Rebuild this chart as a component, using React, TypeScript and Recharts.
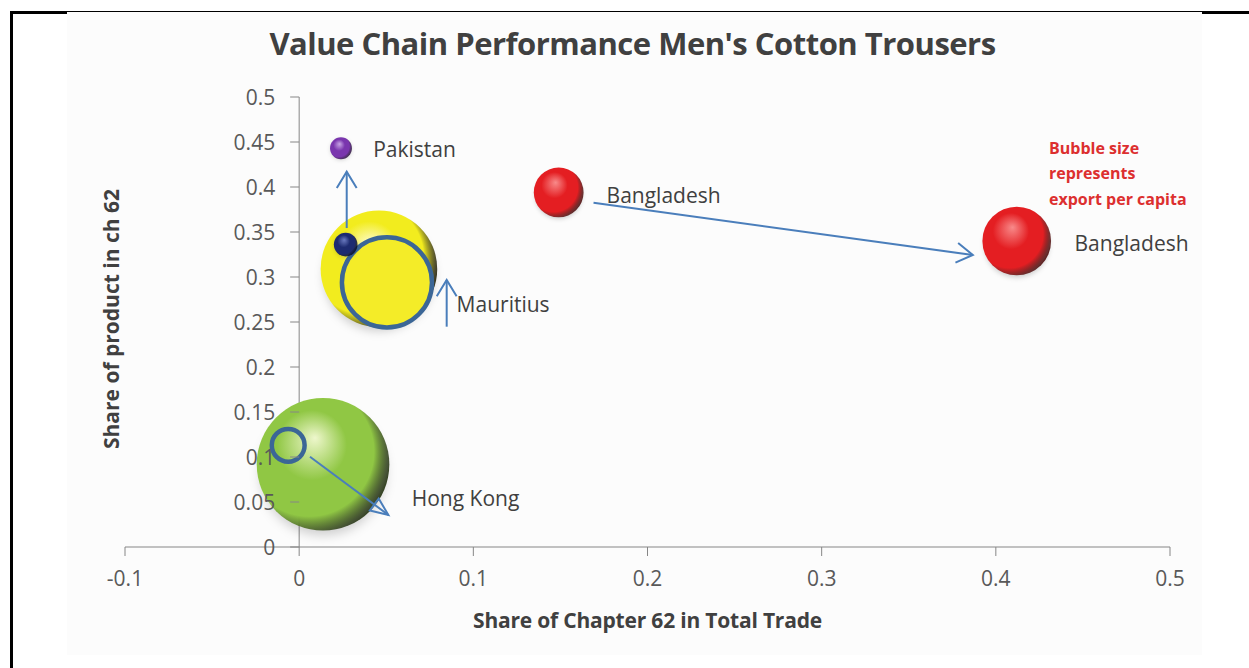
import { ScatterChart, Scatter, XAxis, YAxis, ZAxis, ReferenceLine } from 'recharts'

// --- Data ---

const xTicks = [-0.1, 0, 0.1, 0.2, 0.3, 0.4, 0.5]
const yTicks = [0, 0.05, 0.1, 0.15, 0.2, 0.25, 0.3, 0.35, 0.4, 0.45, 0.5]

// latest position of each country (3D bubbles)
const currentBubbles = [
  { key: 'mauritius', share62: 0.0458, shareProduct: 0.309, exportPerCapita: 340 },
  { key: 'hongkong', share62: 0.0137, shareProduct: 0.0919, exportPerCapita: 440 },
  { key: 'pakistan', share62: 0.024, shareProduct: 0.443, exportPerCapita: 12 },
  { key: 'bangladesh', share62: 0.412, shareProduct: 0.34, exportPerCapita: 118 },
]

// earlier position drawn as flat outlined circles
const earlierRings = [
  { key: 'mauritius0', share62: 0.0504, shareProduct: 0.294, exportPerCapita: 203 },
  { key: 'hongkong0', share62: -0.0063, shareProduct: 0.113, exportPerCapita: 27 },
]

// earlier position drawn as 3D bubbles
const earlierBubbles = [
  { key: 'pakistan0', share62: 0.0267, shareProduct: 0.336, exportPerCapita: 14 },
  { key: 'bangladesh0', share62: 0.149, shareProduct: 0.394, exportPerCapita: 62 },
]

const countryLabels = [
  { text: 'Pakistan', share62: 0.0425, shareProduct: 0.4422 },
  { text: 'Bangladesh', share62: 0.1765, shareProduct: 0.3911 },
  { text: 'Bangladesh', share62: 0.4452, shareProduct: 0.3381 },
  { text: 'Mauritius', share62: 0.0904, shareProduct: 0.27 },
  { text: 'Hong Kong', share62: 0.0646, shareProduct: 0.0541 },
]

// arrows: start point, end point
const pakistanMove = [
  { share62: 0.0273, shareProduct: 0.3544 },
  { share62: 0.0273, shareProduct: 0.417 },
]
const mauritiusMove = [
  { share62: 0.0847, shareProduct: 0.2448 },
  { share62: 0.0847, shareProduct: 0.2967 },
]
const bangladeshMove = [
  { share62: 0.169, shareProduct: 0.3826 },
  { share62: 0.3868, shareProduct: 0.3244 },
]
const hongKongMove = [
  { share62: 0.0062, shareProduct: 0.1003 },
  { share62: 0.0512, shareProduct: 0.0356 },
]

const noteLines = ['Bubble size', 'represents', 'export per capita']

// --- Layout / styles ---

const CHART_W = 1249
const CHART_H = 668
const MARGIN = { top: 97, right: 79, bottom: 31, left: 124 }
const X_AXIS_H = 90
const Y_AXIS_W = 1
const X_DOMAIN: [number, number] = [-0.1, 0.5]
const Y_DOMAIN: [number, number] = [0, 0.5]
const Z_DOMAIN: [number, number] = [0, 440]
const MAX_R = 66.3

const PLOT_W = CHART_W - MARGIN.left - MARGIN.right - Y_AXIS_W
const ZERO_X = MARGIN.left + Y_AXIS_W + ((0 - X_DOMAIN[0]) / (X_DOMAIN[1] - X_DOMAIN[0])) * PLOT_W

const FONT = '"Open Sans", sans-serif'
const AXIS_COLOR = '#868686'
const TICK_COLOR = '#595959'
const LABEL_COLOR = '#404040'
const ARROW_COLOR = '#4a7ebb'
const RING_COLOR = '#3b6696'

// light, base, dark
const sphereColors: Record<string, [string, string, string]> = {
  mauritius: ['#fffde0', '#f2ec1e', '#1e1c00'],
  hongkong: ['#eef7cc', '#90c744', '#1e2e0a'],
  pakistan: ['#c9a6e6', '#7a36ae', '#24083a'],
  bangladesh: ['#f88a8a', '#e41e22', '#4a0404'],
  pakistan0: ['#6a7ac0', '#1d2b70', '#060a24'],
  bangladesh0: ['#f88a8a', '#e41e22', '#4a0404'],
}
const ringFill: Record<string, string> = {
  mauritius0: '#f4ec28',
  hongkong0: 'none',
}

// --- Shapes ---

const Sphere = (props: any) => {
  const { cx, cy, width, payload } = props
  const r = width / 2
  const [light, base, dark] = sphereColors[payload.key]
  const id = `sphere-${payload.key}`
  return (
    <g>
      <defs>
        <radialGradient id={id} cx="0.38" cy="0.44" r="0.66" fx="0.44" fy="0.3">
          <stop offset="0" stopColor={light} />
          <stop offset="0.4" stopColor={base} />
          <stop offset="0.74" stopColor={base} />
          <stop offset="0.92" stopColor={dark} stopOpacity={0.8} />
          <stop offset="1" stopColor={dark} />
        </radialGradient>
        <filter id={`${id}-shadow`} x="-50%" y="-50%" width="200%" height="200%">
          <feGaussianBlur stdDeviation={Math.max(2, r * 0.08)} />
        </filter>
      </defs>
      <ellipse
        cx={cx}
        cy={cy + r * 0.12}
        rx={r * 0.95}
        ry={r * 0.95}
        fill="rgba(0,0,0,0.18)"
        filter={`url(#${id}-shadow)`}
      />
      <circle cx={cx} cy={cy} r={r} fill={`url(#${id})`} />
    </g>
  )
}

const Ring = (props: any) => {
  const { cx, cy, width, payload } = props
  return (
    <circle
      cx={cx}
      cy={cy}
      r={width / 2}
      fill={ringFill[payload.key]}
      stroke={RING_COLOR}
      strokeWidth={4.5}
    />
  )
}

const CountryLabel = (props: any) => {
  const { cx, cy, payload } = props
  return (
    <text
      x={cx}
      y={cy}
      dominantBaseline="central"
      fill={LABEL_COLOR}
      fontSize={21}
      fontFamily={FONT}
    >
      {payload.text}
    </text>
  )
}

const NoPoint = () => <g />

// line of a two-point series, drawn as an arrow from the first to the second point
const arrowLine = (head: 'open' | 'triangle') => (p: any) => {
  const pts = p.points || []
  if (pts.length < 2) return <g />
  const { x: x1, y: y1 } = pts[0]
  const { x: x2, y: y2 } = pts[1]
  const ang = Math.atan2(y2 - y1, x2 - x1)
  const len = 19
  const spread = head === 'open' ? 0.55 : 0.4
  const ax = x2 - len * Math.cos(ang - spread)
  const ay = y2 - len * Math.sin(ang - spread)
  const bx = x2 - len * Math.cos(ang + spread)
  const by = y2 - len * Math.sin(ang + spread)
  const headPts = `${ax},${ay} ${x2},${y2} ${bx},${by}`
  return (
    <g>
      <line x1={x1} y1={y1} x2={x2} y2={y2} stroke={ARROW_COLOR} strokeWidth={2} />
      {head === 'open' ? (
        <polyline points={headPts} fill="none" stroke={ARROW_COLOR} strokeWidth={2} />
      ) : (
        <polygon points={headPts} fill="none" stroke={ARROW_COLOR} strokeWidth={2} />
      )}
    </g>
  )
}

const YTick = (props: any) => {
  const { y, payload } = props
  return (
    <g>
      <line x1={ZERO_X - 9} x2={ZERO_X} y1={y} y2={y} stroke={AXIS_COLOR} />
      <text
        x={ZERO_X - 24}
        y={y}
        textAnchor="end"
        dominantBaseline="central"
        fill={TICK_COLOR}
        fontSize={21}
        fontFamily={FONT}
      >
        {String(payload.value)}
      </text>
    </g>
  )
}

const XTitle = (props: any) => {
  const { viewBox } = props
  return (
    <text
      x={viewBox.x + viewBox.width / 2}
      y={viewBox.y + 73}
      textAnchor="middle"
      dominantBaseline="central"
      fill={LABEL_COLOR}
      fontSize={21}
      fontWeight={700}
      fontFamily={FONT}
      letterSpacing={-0.2}
    >
      Share of Chapter 62 in Total Trade
    </text>
  )
}

const YTitle = (props: any) => {
  const { viewBox } = props
  const x = viewBox.x - 13
  const y = viewBox.y + viewBox.height / 2 - 3
  return (
    <text
      x={x}
      y={y}
      transform={`rotate(-90 ${x} ${y})`}
      textAnchor="middle"
      dominantBaseline="central"
      fill={LABEL_COLOR}
      fontSize={21}
      fontWeight={700}
      fontFamily={FONT}
    >
      Share of product in ch 62
    </text>
  )
}

// --- Component ---

export default function App() {
  return (
    <div style={{ position: 'absolute', left: 0, top: 0, width: CHART_W, height: CHART_H, background: '#fff' }}>
      {/* page frame */}
      <div style={{ position: 'absolute', left: 10, top: 11, width: 3, height: CHART_H - 11, background: '#000' }} />
      <div style={{ position: 'absolute', left: 10, top: 11, width: CHART_W - 10, height: 3, background: '#000' }} />
      <div style={{ position: 'absolute', left: 67, top: 12, width: 1135, height: 643, background: '#fcfcfc' }} />

      <div
        style={{
          position: 'absolute',
          left: 8,
          top: 28,
          width: CHART_W,
          textAlign: 'center',
          fontFamily: FONT,
          fontWeight: 700,
          fontSize: 31,
          lineHeight: '31px',
          color: LABEL_COLOR,
          letterSpacing: -0.5,
        }}
      >
        Value Chain Performance Men's Cotton Trousers
      </div>

      <div style={{ position: 'absolute', left: 0, top: 0 }}>
        <ScatterChart width={CHART_W} height={CHART_H} margin={MARGIN}>
          <XAxis
            type="number"
            dataKey="share62"
            domain={X_DOMAIN}
            ticks={xTicks}
            interval={0}
            height={X_AXIS_H}
            stroke={AXIS_COLOR}
            tickSize={9}
            tickMargin={15}
            tick={{ fill: TICK_COLOR, fontSize: 21, fontFamily: FONT }}
            tickFormatter={(v: number) => String(v)}
            label={{ content: XTitle }}
          />
          <YAxis
            type="number"
            dataKey="shareProduct"
            domain={Y_DOMAIN}
            ticks={yTicks}
            interval={0}
            width={Y_AXIS_W}
            axisLine={false}
            tickLine={false}
            tick={YTick}
            label={{ content: YTitle }}
          />
          <ZAxis type="number" dataKey="exportPerCapita" domain={Z_DOMAIN} range={[0, Math.PI * MAX_R * MAX_R]} />
          <ReferenceLine x={0} stroke={AXIS_COLOR} />
          <Scatter data={currentBubbles} shape={Sphere} isAnimationActive={false} />
          <Scatter data={earlierRings} shape={Ring} isAnimationActive={false} />
          <Scatter data={earlierBubbles} shape={Sphere} isAnimationActive={false} />
          <Scatter data={pakistanMove} shape={NoPoint} line={arrowLine('open')} isAnimationActive={false} />
          <Scatter data={mauritiusMove} shape={NoPoint} line={arrowLine('open')} isAnimationActive={false} />
          <Scatter data={bangladeshMove} shape={NoPoint} line={arrowLine('open')} isAnimationActive={false} />
          <Scatter data={hongKongMove} shape={NoPoint} line={arrowLine('triangle')} isAnimationActive={false} />
          <Scatter data={countryLabels} shape={CountryLabel} isAnimationActive={false} />
        </ScatterChart>
      </div>

      <div
        style={{
          position: 'absolute',
          left: 1049,
          top: 136,
          fontFamily: FONT,
          fontWeight: 700,
          fontSize: 16,
          lineHeight: '25.3px',
          color: '#dc2f2f',
          whiteSpace: 'nowrap',
        }}
      >
        {noteLines.map(line => (
          <div key={line}>{line}</div>
        ))}
      </div>
    </div>
  )
}
